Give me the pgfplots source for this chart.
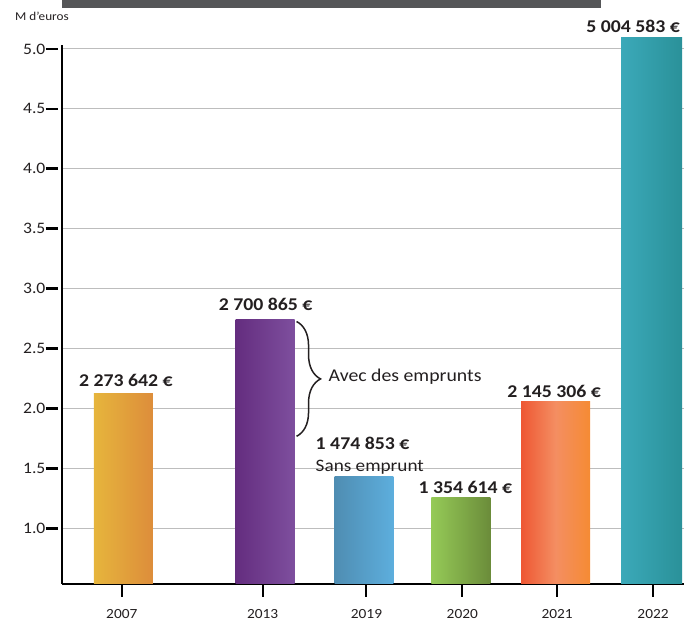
\documentclass[border=0pt]{standalone}
\usepackage{fontspec}
\setmainfont[FakeStretch=1.1]{Carlito}
\usepackage{pgfplots}
\pgfplotsset{compat=1.18}
\usetikzlibrary{decorations.pathreplacing}
\definecolor{txt}{HTML}{231F20}
\definecolor{topbar}{HTML}{555658}
\definecolor{gridc}{HTML}{BDBDBD}
\definecolor{aL}{HTML}{E6B53C}\definecolor{aR}{HTML}{DD8D3B}
\definecolor{bL}{HTML}{642D7F}\definecolor{bR}{HTML}{7E4F9E}
\definecolor{cL}{HTML}{4F8DB2}\definecolor{cR}{HTML}{5DAEDD}
\definecolor{dL}{HTML}{95CA57}\definecolor{dR}{HTML}{6B8C3A}
\definecolor{eL}{HTML}{EE5733}\definecolor{eM}{HTML}{F48E62}\definecolor{eR}{HTML}{F58B33}
\definecolor{fL}{HTML}{3BA9B9}\definecolor{fR}{HTML}{2A9199}
\begin{document}
\begin{tikzpicture}
\begin{axis}[
  scale only axis, width=623pt, height=547.8pt,
  xmin=62, xmax=685, ymin=0.535, ymax=5.1,
  clip mode=individual,
  axis x line*=bottom, axis y line*=left,
  x axis line style={-, line width=2pt, color=black},
  y axis line style={draw=none},
  tick align=outside,
  major tick length=13pt,
  xtick={122,263,367,463,558,654},
  xticklabels={2007,2013,2019,2020,2021,2022},
  ytick={1,1.5,2,2.5,3,3.5,4,4.5,5},
  yticklabels={1.0,1.5,2.0,2.5,3.0,3.5,4.0,4.5,5.0},
  xtick style={line width=2pt, color=black},
  ytick style={draw=none},
  xticklabel style={font=\fontsize{14}{14}\selectfont, text=txt, yshift=-9pt},
  yticklabel style={font=\fontsize{16}{16}\selectfont, text=txt, xshift=0pt},
  ymajorgrids, grid style={color=gridc, line width=0.9pt},
]
\addplot[ybar, bar shift=0pt, bar width=59, draw=none, left color=aL, right color=aR] coordinates {(123.5,2.125)};
\addplot[ybar, bar shift=0pt, bar width=59, draw=none, left color=bL, right color=bR] coordinates {(265.5,2.742)};
\addplot[ybar, bar shift=0pt, bar width=59, draw=none, left color=cL, right color=cR] coordinates {(364.5,1.433)};
\addplot[ybar, bar shift=0pt, bar width=59, draw=none, left color=dL, right color=dR] coordinates {(461.5,1.258)};
\addplot[ybar, bar shift=0pt, bar width=69, draw=none, left color=eL, right color=eR, middle color=eM] coordinates {(556.5,2.058)};
\addplot[ybar, bar shift=0pt, bar width=61, draw=none, left color=fL, right color=fR] coordinates {(652.5,5.092)};
% y axis line
\draw[line width=2.8pt, black] (axis cs:62,0.535) -- (axis cs:62,5.035);
% y tick marks (detached from the axis line)
\pgfplotsinvokeforeach{1,1.5,2,2.5,3,3.5,4,4.5,5}{
  \draw[line width=2.6pt, black] (axis cs:46,#1) -- (axis cs:58,#1);
}
% top dark band
\fill[topbar] (axis cs:62,5.4083) rectangle (axis cs:602,5.342);
% unit label
\node[anchor=base west, font=\fontsize{12}{12}\selectfont, text=txt, inner sep=0pt] at (axis cs:15,5.24) {M d’euros};
% value labels
\tikzset{vl/.style={anchor=base, inner sep=0pt, text=txt, font=\bfseries\fontsize{18}{18}\selectfont}}
\node[vl] at (axis cs:126,2.183) {2~273~642~€};
\node[vl] at (axis cs:266,2.817) {2~700~865~€};
\node[vl, anchor=base west] at (axis cs:316,1.658) {1~474~853~€};
\node[vl] at (axis cs:466,1.292) {1~354~614~€};
\node[vl] at (axis cs:555,2.092) {2~145~306~€};
\node[vl] at (axis cs:634,5.133) {5~004~583~€};
\node[anchor=base west, inner sep=0pt, text=txt, font=\fontsize{17.5}{17.5}\selectfont] at (axis cs:316,1.475) {Sans emprunt};
\node[anchor=base west, inner sep=0pt, text=txt, font=\fontsize{18}{18}\selectfont] at (axis cs:329,2.225) {Avec des emprunts};
% brace
\draw[line width=1.5pt, txt, decorate, decoration={brace, amplitude=24pt}] (axis cs:297,2.725) -- (axis cs:297,1.767);
% bounding box
\path (axis cs:0,5.4083) rectangle (axis cs:685,0.225);
\end{axis}
\end{tikzpicture}
\end{document}
